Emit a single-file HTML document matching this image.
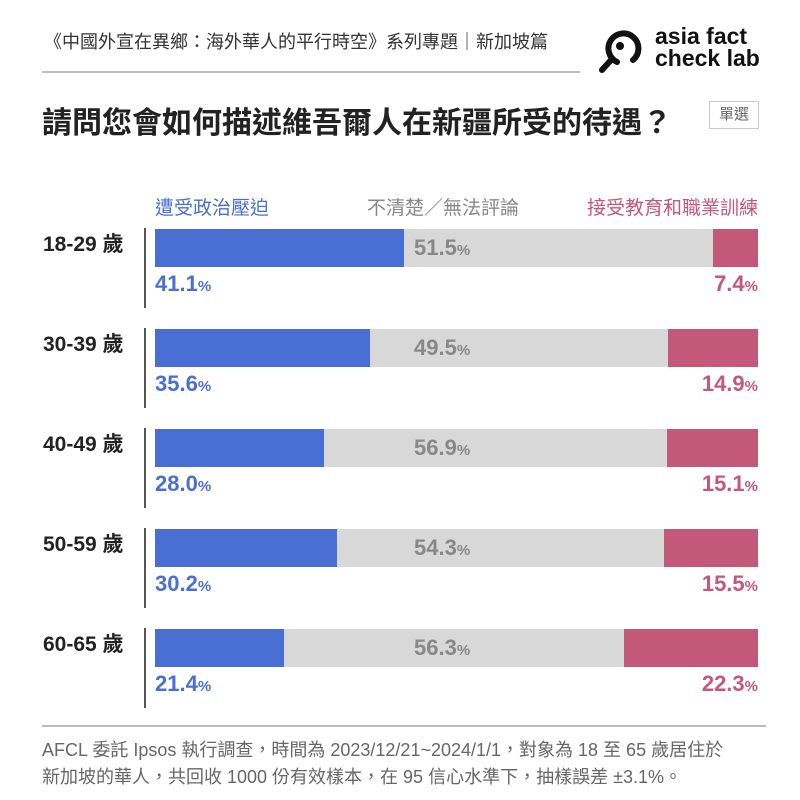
<!DOCTYPE html>
<html><head><meta charset="utf-8"><style>
body{margin:0;width:800px;height:800px;background:#fff;position:relative;overflow:hidden;font-family:"Liberation Sans","Noto Sans CJK TC",sans-serif}
.a{position:absolute;white-space:nowrap}
.bar{position:absolute;height:38px}
.b{background:#4a6fd4}.g{background:#d8d8d8}.r{background:#c4587a}
.pc{font-size:22px;font-weight:bold}
.pc small{font-size:15px}
.age{font-size:21px;font-weight:bold;color:#222}
.vl{position:absolute;left:144px;width:2px;height:80px;background:#555}
</style></head><body>
<div class="a" style="left:44px;top:28px;font-size:18px;color:#333">《中國外宣在異鄉：海外華人的平行時空》系列專題｜新加坡篇</div>
<div class="a" style="left:42px;top:71px;width:538px;height:2px;background:#bbb"></div>
<svg class="a" style="left:597px;top:26px" width="50" height="50" viewBox="0 0 50 50"><path d="M36 34 A15 15 0 1 0 20 36" fill="none" stroke="#111" stroke-width="6" stroke-linecap="round"/><circle cx="23" cy="20" r="4" fill="#111"/><line x1="14" y1="34" x2="5" y2="44" stroke="#111" stroke-width="6" stroke-linecap="round"/></svg>
<div class="a" style="left:655px;top:25px;font-size:23px;font-weight:bold;line-height:22px;color:#111">asia fact<br>check lab</div>
<div class="a" style="left:42px;top:98px;font-size:30px;font-weight:bold;color:#222">請問您會如何描述維吾爾人在新疆所受的待遇？</div>
<div class="a" style="left:709px;top:101px;width:48px;height:26px;border:1px solid #ccc;font-size:15px;color:#666;text-align:center;line-height:26px">單選</div>
<div class="a" style="left:155px;top:193px;font-size:19px;color:#4a6fd4">遭受政治壓迫</div>
<div class="a" style="left:367px;top:193px;font-size:19px;color:#888">不清楚／無法評論</div>
<div class="a" style="right:42px;top:193px;font-size:19px;color:#c4587a">接受教育和職業訓練</div>

<div class="a age" style="left:43px;top:228px">18-29 歲</div><div class="vl" style="top:228px"></div>
<div class="bar b" style="left:155px;top:229px;width:249px"></div><div class="bar g" style="left:404px;top:229px;width:309px"></div><div class="bar r" style="left:713px;top:229px;width:45px"></div>
<div class="a pc" style="left:414px;top:235px;color:#888">51.5<small>%</small></div>
<div class="a pc" style="left:155px;top:271px;color:#4a6fd4">41.1<small>%</small></div>
<div class="a pc" style="right:42px;top:271px;color:#c4587a">7.4<small>%</small></div>

<div class="a age" style="left:43px;top:328px">30-39 歲</div><div class="vl" style="top:328px"></div>
<div class="bar b" style="left:155px;top:329px;width:215px"></div><div class="bar g" style="left:370px;top:329px;width:298px"></div><div class="bar r" style="left:668px;top:329px;width:90px"></div>
<div class="a pc" style="left:414px;top:335px;color:#888">49.5<small>%</small></div>
<div class="a pc" style="left:155px;top:371px;color:#4a6fd4">35.6<small>%</small></div>
<div class="a pc" style="right:42px;top:371px;color:#c4587a">14.9<small>%</small></div>

<div class="a age" style="left:43px;top:428px">40-49 歲</div><div class="vl" style="top:428px"></div>
<div class="bar b" style="left:155px;top:429px;width:169px"></div><div class="bar g" style="left:324px;top:429px;width:343px"></div><div class="bar r" style="left:667px;top:429px;width:91px"></div>
<div class="a pc" style="left:414px;top:435px;color:#888">56.9<small>%</small></div>
<div class="a pc" style="left:155px;top:471px;color:#4a6fd4">28.0<small>%</small></div>
<div class="a pc" style="right:42px;top:471px;color:#c4587a">15.1<small>%</small></div>

<div class="a age" style="left:43px;top:528px">50-59 歲</div><div class="vl" style="top:528px"></div>
<div class="bar b" style="left:155px;top:529px;width:182px"></div><div class="bar g" style="left:337px;top:529px;width:327px"></div><div class="bar r" style="left:664px;top:529px;width:94px"></div>
<div class="a pc" style="left:414px;top:535px;color:#888">54.3<small>%</small></div>
<div class="a pc" style="left:155px;top:571px;color:#4a6fd4">30.2<small>%</small></div>
<div class="a pc" style="right:42px;top:571px;color:#c4587a">15.5<small>%</small></div>

<div class="a age" style="left:43px;top:628px">60-65 歲</div><div class="vl" style="top:628px"></div>
<div class="bar b" style="left:155px;top:629px;width:129px"></div><div class="bar g" style="left:284px;top:629px;width:340px"></div><div class="bar r" style="left:624px;top:629px;width:134px"></div>
<div class="a pc" style="left:414px;top:635px;color:#888">56.3<small>%</small></div>
<div class="a pc" style="left:155px;top:671px;color:#4a6fd4">21.4<small>%</small></div>
<div class="a pc" style="right:42px;top:671px;color:#c4587a">22.3<small>%</small></div>

<div class="a" style="left:42px;top:725px;width:724px;height:2px;background:#bbb"></div>
<div class="a" style="left:42px;top:737px;font-size:18px;line-height:27px;color:#666">AFCL 委託 Ipsos 執行調查，時間為 2023/12/21~2024/1/1，對象為 18 至 65 歲居住於<br>新加坡的華人，共回收 1000 份有效樣本，在 95 信心水準下，抽樣誤差 ±3.1%。</div>
</body></html>
